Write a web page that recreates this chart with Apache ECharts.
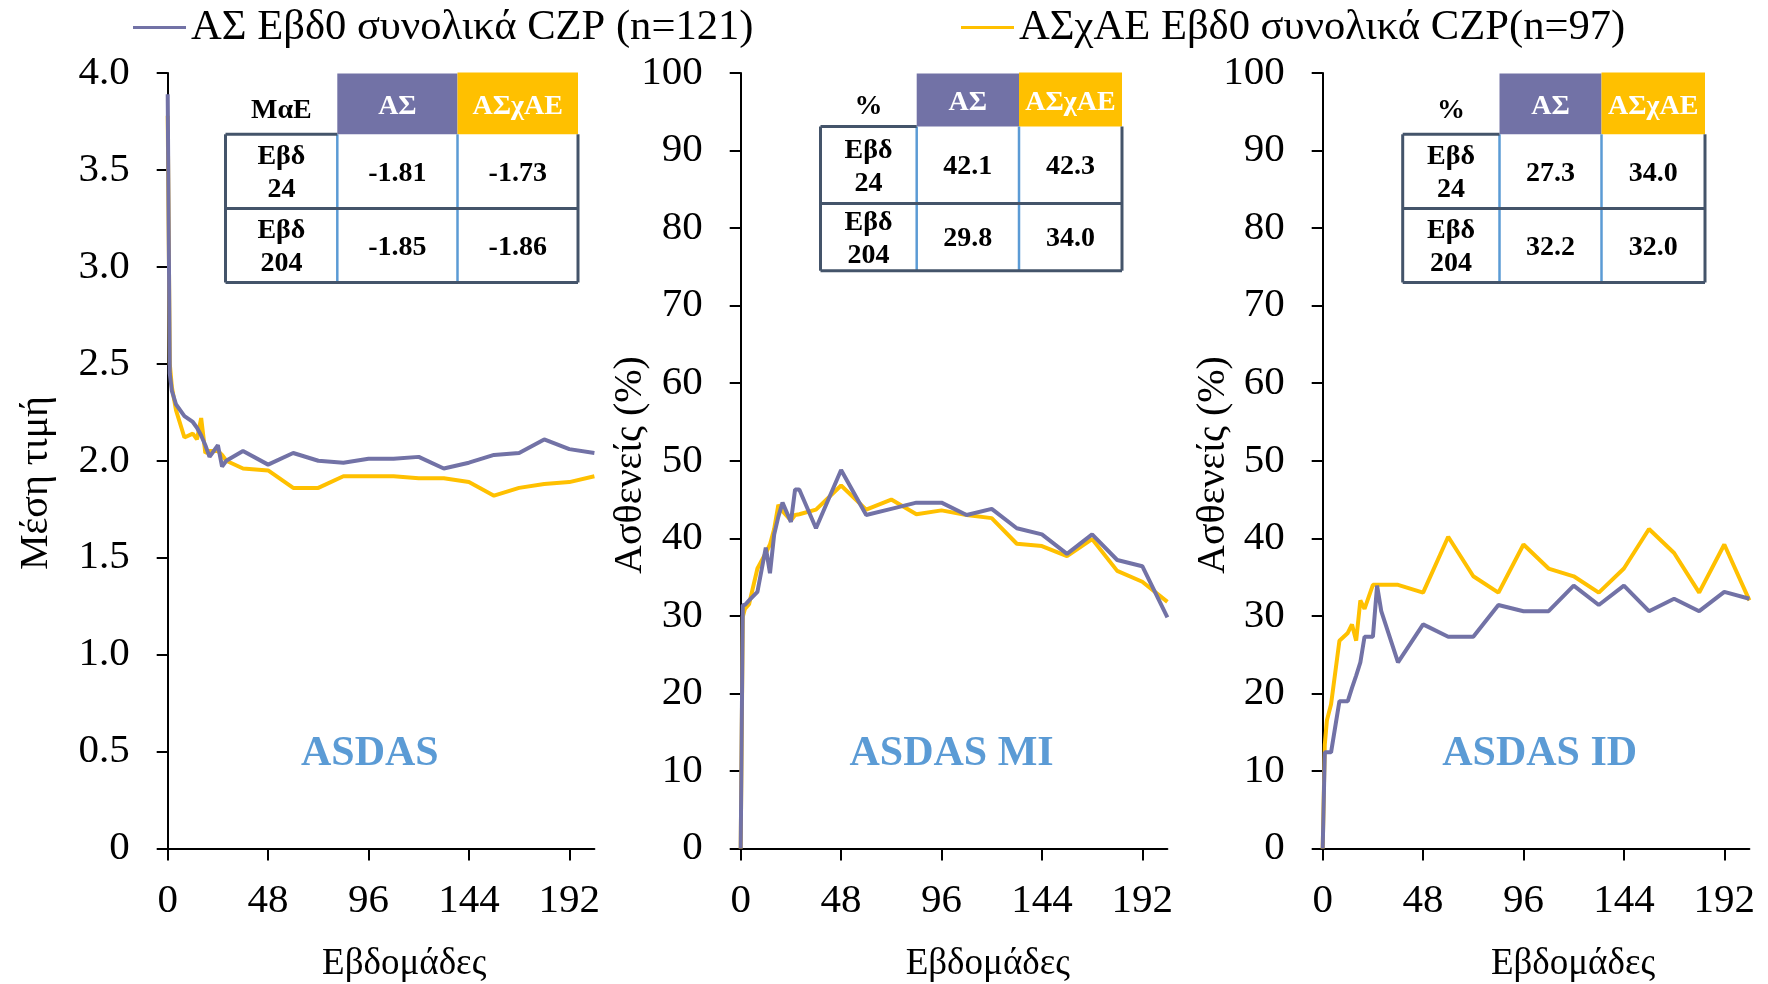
<!DOCTYPE html>
<html>
<head>
<meta charset="utf-8">
<script src="https://cdn.jsdelivr.net/npm/echarts@6/dist/echarts.min.js"></script>
<style>
  html, body { margin: 0; padding: 0; background: #fff; }
  #chart { width: 1768px; height: 984px; }
</style>
</head>
<body>
<div id="chart"></div>
<script>
// Visit weeks shared by every curve
const weeks = [0, 1, 2, 4, 8, 12, 14, 16, 18, 20, 24, 26, 28, 36, 48, 60, 72, 84, 96, 108, 120, 132, 144, 156, 168, 180, 192, 204];

// ASDAS mean value
const asdasAS   = [3.89, 2.45, 2.36, 2.29, 2.23, 2.20, 2.17, 2.13, 2.08, 2.02, 2.08, 1.97, 2.00, 2.05, 1.98, 2.04, 2.00, 1.99, 2.01, 2.01, 2.02, 1.96, 1.99, 2.03, 2.04, 2.11, 2.06, 2.04];
const asdasNrAS = [3.78, 2.50, 2.38, 2.26, 2.12, 2.14, 2.11, 2.22, 2.04, 2.05, 2.05, 2.03, 2.00, 1.96, 1.95, 1.86, 1.86, 1.92, 1.92, 1.92, 1.91, 1.91, 1.89, 1.82, 1.86, 1.88, 1.89, 1.92];

// ASDAS major improvement, % of patients
const miAS   = [0, 31.4, 31.4, 32.0, 33.1, 38.8, 35.5, 40.5, 42.8, 44.6, 42.1, 46.3, 46.3, 41.3, 48.8, 43.0, 43.8, 44.6, 44.6, 43.0, 43.8, 41.3, 40.5, 38.0, 40.5, 37.2, 36.4, 29.8];
const miNrAS = [0, 29.9, 30.9, 31.5, 36.1, 38.1, 39.2, 41.2, 44.3, 43.5, 42.3, 43.0, 43.1, 43.7, 46.8, 43.7, 45.0, 43.1, 43.6, 43.0, 42.6, 39.3, 39.0, 37.7, 39.9, 35.8, 34.4, 31.8];

// ASDAS inactive disease, % of patients
const idAS   = [0, 12.4, 12.4, 12.4, 19.0, 19.0, 20.7, 22.3, 24.0, 27.3, 27.3, 33.9, 30.6, 24.0, 28.9, 27.3, 27.3, 31.4, 30.6, 30.6, 33.9, 31.4, 33.9, 30.6, 32.2, 30.6, 33.1, 32.2];
const idNrAS = [0, 13.4, 16.5, 18.6, 26.8, 27.8, 28.9, 26.8, 32.0, 30.9, 34.0, 34.0, 34.0, 34.0, 33.0, 40.2, 35.1, 33.0, 39.2, 36.1, 35.1, 33.0, 36.1, 41.2, 38.1, 33.0, 39.2, 32.0];

// Axis tick labels
const weekTicks = [0, 48, 96, 144, 192];
const meanTickLabels = ['0', '0.5', '1.0', '1.5', '2.0', '2.5', '3.0', '3.5', '4.0'];
const pctTickLabels = ['0', '10', '20', '30', '40', '50', '60', '70', '80', '90', '100'];

// Series and panel names
const nameAS = 'ΑΣ Εβδ0 συνολικά CZP (n=121)';
const nameNrAS = 'ΑΣχΑΕ Εβδ0 συνολικά CZP(n=97)';
const panelTitles = ['ASDAS', 'ASDAS MI', 'ASDAS ID'];
const xAxisTitle = 'Εβδομάδες';
const yAxisTitles = ['Μέση τιμή', 'Ασθενείς (%)', 'Ασθενείς (%)'];

// Inset tables: week 24 / week 204 summaries
const tableCorner = ['ΜαΕ', '%', '%'];
const tableHeads = ['ΑΣ', 'ΑΣχΑΕ'];
const tableRows = ['Εβδ\n24', 'Εβδ\n204'];
const maeTable = [['-1.81', '-1.73'], ['-1.85', '-1.86']];
const miTable  = [['42.1', '42.3'], ['29.8', '34.0']];
const idTable  = [['27.3', '34.0'], ['32.2', '32.0']];

const FONT = '"Liberation Serif", "Times New Roman", serif';
const PURPLE = '#7272A6';
const GOLD = '#FFC000';
const SLATE = '#44546A';
const LIGHTBLUE = '#5B9BD5';

const gridLefts = [167.7, 740.7, 1322.7];
const GRID_TOP = 73;
const GRID_W = 426.7;
const GRID_H = 775.5;

function pairs(values) {
  return weeks.map((w, i) => [w, values[i]]);
}

const grids = gridLefts.map(left => ({
  left: left, top: GRID_TOP, width: GRID_W, height: GRID_H,
  containLabel: false, outerBoundsMode: 'none'
}));

const xAxes = [0, 1, 2].map(i => ({
  type: 'value', gridIndex: i, min: 0, max: 204,
  splitLine: { show: false },
  axisLine: { show: true, lineStyle: { color: '#000', width: 2 } },
  axisTick: { show: true, customValues: weekTicks, length: 12, lineStyle: { color: '#000', width: 2 } },
  axisLabel: { customValues: weekTicks, color: '#000', fontSize: 41, fontFamily: FONT, margin: 32 }
}));

const yLabelBase = { color: '#000', fontSize: 41, fontFamily: FONT, margin: 38, padding: [5, 0, 0, 0] };
const yAxes = [
  {
    type: 'value', gridIndex: 0, min: 0, max: 4, interval: 0.5,
    axisLabel: Object.assign({ formatter: v => meanTickLabels[Math.round(v / 0.5)] }, yLabelBase)
  },
  {
    type: 'value', gridIndex: 1, min: 0, max: 100, interval: 10,
    axisLabel: Object.assign({ formatter: v => pctTickLabels[Math.round(v / 10)] }, yLabelBase)
  },
  {
    type: 'value', gridIndex: 2, min: 0, max: 100, interval: 10,
    axisLabel: Object.assign({ formatter: v => pctTickLabels[Math.round(v / 10)] }, yLabelBase)
  }
].map(a => Object.assign(a, {
  splitLine: { show: false },
  axisLine: { show: true, lineStyle: { color: '#000', width: 2 } },
  axisTick: { show: true, length: 11, lineStyle: { color: '#000', width: 2 } }
}));

function lineSeries(name, values, idx, color) {
  return {
    type: 'line', name: name, xAxisIndex: idx, yAxisIndex: idx,
    data: pairs(values), symbol: 'none', smooth: false,
    color: color,
    itemStyle: { color: color },
    lineStyle: { color: color, width: 4 },
    emphasis: { disabled: true }
  };
}

const series = [
  lineSeries(nameNrAS, asdasNrAS, 0, GOLD),
  lineSeries(nameAS, asdasAS, 0, PURPLE),
  lineSeries(nameNrAS, miNrAS, 1, GOLD),
  lineSeries(nameAS, miAS, 1, PURPLE),
  lineSeries(nameNrAS, idNrAS, 2, GOLD),
  lineSeries(nameAS, idAS, 2, PURPLE)
];

function textStyle(t, size, weight, fill) {
  return {
    text: t, fontSize: size, fontWeight: weight, fontFamily: FONT, fill: fill,
    align: 'center', verticalAlign: 'middle'
  };
}

// Inset table built from rectangles, lines and text
function buildTable(cols, rows, corner, values) {
  const els = [];
  els.push({ type: 'rect', shape: { x: cols[1], y: rows[0], width: cols[2] - cols[1], height: rows[1] - rows[0] }, style: { fill: PURPLE } });
  els.push({ type: 'rect', shape: { x: cols[2], y: rows[0] - 1, width: cols[3] - cols[2], height: rows[1] - rows[0] + 1 }, style: { fill: GOLD } });
  const line = (x1, y1, x2, y2, color, w) => ({ type: 'line', shape: { x1, y1, x2, y2 }, style: { stroke: color, lineWidth: w } });
  els.push(line(cols[1], rows[1], cols[1], rows[3], LIGHTBLUE, 2.5));
  els.push(line(cols[2], rows[1], cols[2], rows[3], LIGHTBLUE, 2.5));
  els.push(line(cols[0], rows[1], cols[1], rows[1], SLATE, 3));
  els.push(line(cols[0], rows[2], cols[3], rows[2], SLATE, 3));
  els.push(line(cols[0], rows[1], cols[0], rows[3], SLATE, 3));
  els.push(line(cols[3], rows[1], cols[3], rows[3], SLATE, 3));
  els.push(line(cols[0], rows[3], cols[3], rows[3], SLATE, 3));
  const cx = c => (cols[c] + cols[c + 1]) / 2;
  const cy = r => (rows[r] + rows[r + 1]) / 2;
  const text = (t, x, y, fill) => {
    const s = textStyle(t, 28, 'bold', fill);
    s.lineHeight = 33;
    return { type: 'text', x: x, y: y, style: s };
  };
  els.push(text(corner, cx(0), cy(0) + 7, '#000'));
  els.push(text(tableHeads[0], cx(1), cy(0) + 3, '#fff'));
  els.push(text(tableHeads[1], cx(2), cy(0) + 3, '#fff'));
  for (let r = 0; r < 2; r++) {
    els.push(text(tableRows[r], cx(0), cy(r + 1) + 2, '#000'));
    els.push(text(values[r][0], cx(1), cy(r + 1) + 2, '#000'));
    els.push(text(values[r][1], cx(2), cy(r + 1) + 2, '#000'));
  }
  return els;
}

const graphics = [].concat(
  buildTable([225.5, 337.3, 457.5, 578], [73.5, 134.3, 208.5, 282.5], tableCorner[0], maeTable),
  buildTable([820.5, 916.7, 1019, 1122], [73.5, 126.5, 203.5, 270.7], tableCorner[1], miTable),
  buildTable([1402.7, 1499.5, 1601.5, 1705], [73.5, 134.3, 208.5, 282.5], tableCorner[2], idTable)
);

// Panel titles inside each plot
const titleCenters = [[369.8, 754], [951.6, 754], [1539.7, 754]];
panelTitles.forEach((t, i) => {
  graphics.push({
    type: 'text', x: titleCenters[i][0], y: titleCenters[i][1],
    style: textStyle(t, 42, 'bold', LIGHTBLUE)
  });
});

// Axis titles
const xTitleCenters = [[404.2, 964], [987.8, 964], [1573, 964]];
xTitleCenters.forEach(c => {
  graphics.push({
    type: 'text', x: c[0], y: c[1],
    style: textStyle(xAxisTitle, 37, 'normal', '#000')
  });
});
const yTitleCenters = [[36, 483], [630, 465], [1213, 465]];
yTitleCenters.forEach((c, i) => {
  graphics.push({
    type: 'text', x: c[0], y: c[1], rotation: Math.PI / 2,
    style: textStyle(yAxisTitles[i], 40, 'normal', '#000')
  });
});

const legendBase = {
  top: 6, icon: 'rect', itemWidth: 53, itemHeight: 3, padding: 0,
  textStyle: { fontSize: 42.6, fontFamily: FONT, color: '#000' },
  selectedMode: false
};

const option = {
  animation: false,
  backgroundColor: '#fff',
  legend: [
    Object.assign({}, legendBase, { left: 133, data: [nameAS] }),
    Object.assign({}, legendBase, { left: 961, data: [nameNrAS] })
  ],
  grid: grids,
  xAxis: xAxes,
  yAxis: yAxes,
  series: series,
  graphic: graphics
};

const chart = echarts.init(document.getElementById('chart'), null, { renderer: 'canvas' });
chart.setOption(option);
</script>
</body>
</html>
